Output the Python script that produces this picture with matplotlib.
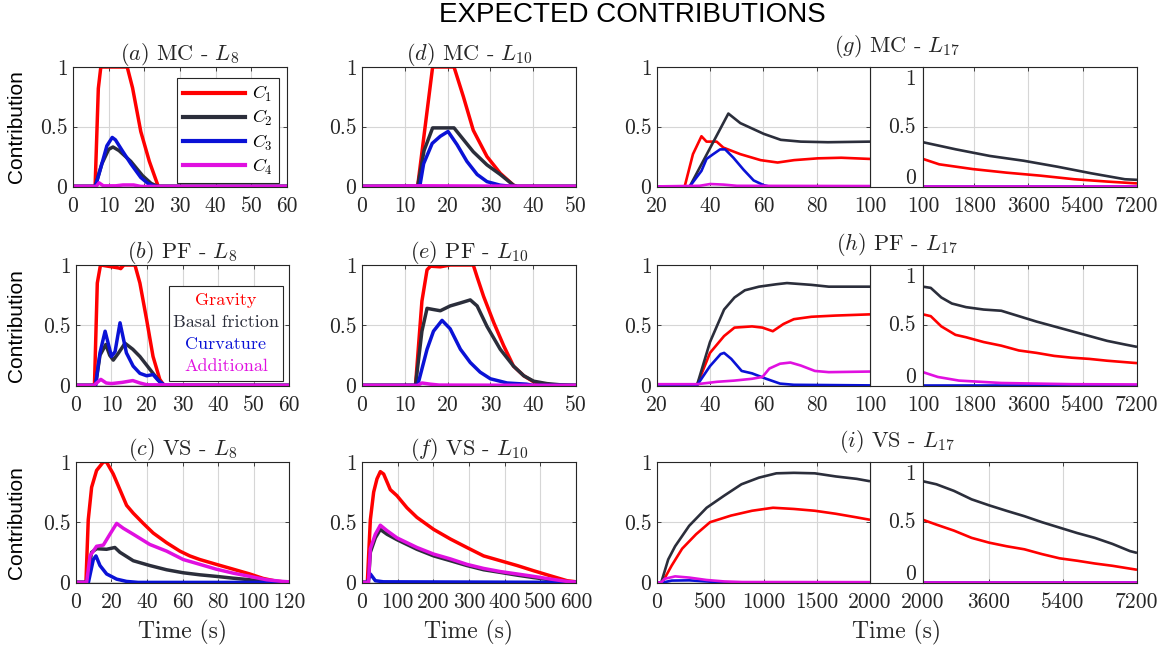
import matplotlib
matplotlib.use('Agg')
import matplotlib.pyplot as plt
from matplotlib.patches import Rectangle
from matplotlib.lines import Line2D

plt.rcParams['mathtext.fontset'] = 'cm'
plt.rcParams['font.family'] = 'cmr10'
plt.rcParams['axes.formatter.use_mathtext'] = True

# ---------------- data ----------------
# (a) MC - L8
A_T1 = [0, 6.2, 7.1, 7.8, 15.2, 16.7, 19.0, 21.4, 23.9, 60]
A_C1 = [0, 0, 0.82, 1.0, 1.0, 0.825, 0.46, 0.21, 0.0, 0]
A_T2 = [0, 6.2, 8.1, 10.0, 11.2, 12.9, 16.2, 19.5, 21.9, 23.8, 60]
A_C2 = [0, 0, 0.19, 0.31, 0.33, 0.30, 0.21, 0.09, 0.025, 0, 0]
A_T3 = [0, 6.3, 8.1, 9.5, 11.0, 11.9, 13.8, 16.2, 19.0, 21.0, 22.9, 60]
A_C3 = [0, 0, 0.19, 0.34, 0.41, 0.39, 0.30, 0.19, 0.075, 0.025, 0.0, 0]
A_T4 = [0, 6.5, 7.3, 8.5, 12, 14, 17, 19, 60]
A_C4 = [0, 0, 0.03, 0.005, 0.005, 0.012, 0.012, 0, 0]

# (b) PF - L8
B_T1 = [0, 5.2, 6.0, 6.9, 12.1, 12.6, 13.5, 16.6, 18, 19.9, 21.7, 23.6, 24.8, 60]
B_C1 = [0, 0, 0.85, 1.0, 0.975, 0.97, 1.0, 1.0, 0.85, 0.545, 0.24, 0.05, 0.0, 0]
B_T2 = [0, 5.5, 6.75, 8.4, 9.5, 10.5, 12, 13.8, 16, 18, 21.7, 23.6, 25, 60]
B_C2 = [0, 0, 0.25, 0.34, 0.25, 0.21, 0.27, 0.35, 0.30, 0.24, 0.10, 0.03, 0, 0]
B_T3 = [0, 5.5, 6.75, 8.2, 10.0, 11.0, 12.4, 14.2, 16.1, 18, 19.9, 21.7, 23.2, 25, 60]
B_C3 = [0, 0, 0.27, 0.45, 0.24, 0.28, 0.52, 0.27, 0.16, 0.10, 0.08, 0.09, 0.04, 0, 0]
B_T4 = [0, 5, 7, 8.5, 10, 13, 16, 18, 20, 60]
B_C4 = [0, 0, 0.05, 0.02, 0.015, 0.025, 0.04, 0.02, 0.005, 0]

# (c) VS - L8
C_T1 = [0, 5.6, 6.9, 8.8, 11.6, 15.4, 17.2, 21, 24.75, 28.5, 32.25, 37.9, 43.5, 51, 58.5, 64.1,
        69.75, 79, 88.5, 97.9, 105.4, 112.9, 120]
C_C1 = [0, 0, 0.52, 0.79, 0.93, 1.0, 1.0, 0.90, 0.77, 0.64, 0.575, 0.49, 0.41, 0.33, 0.26, 0.22,
        0.19, 0.15, 0.11, 0.07, 0.033, 0.01, 0]
C_T2 = [0, 6, 8.8, 11.6, 17.2, 21.9, 24.75, 32.25, 41.6, 51, 60.4, 69.75, 79, 88.5, 97.9, 105.4, 112, 120]
C_C2 = [0, 0, 0.25, 0.28, 0.275, 0.29, 0.25, 0.18, 0.14, 0.105, 0.08, 0.063, 0.05, 0.035, 0.022, 0.01, 0.003, 0]
C_T3 = [0, 7, 9.75, 11.25, 13.5, 17.25, 22.9, 28.5, 35, 120]
C_C3 = [0, 0, 0.19, 0.22, 0.14, 0.07, 0.027, 0.008, 0, 0]
C_T4 = [0, 6, 7.9, 11.6, 15.4, 19.1, 22.9, 26.6, 32.25, 41.6, 51, 60.4, 69.75, 79, 88.5, 97.9, 107.25, 116.6, 120]
C_C4 = [0, 0, 0.22, 0.30, 0.31, 0.40, 0.49, 0.45, 0.40, 0.315, 0.26, 0.19, 0.15, 0.11, 0.077, 0.05, 0.022, 0.008, 0.005]

# (d) MC - L10
D_T1 = [0, 13, 16.5, 21.5, 23.7, 26, 29.2, 32.3, 35.4, 36.2, 50]
D_C1 = [0, 0, 1.0, 1.0, 0.75, 0.47, 0.25, 0.11, 0.01, 0, 0]
D_T2 = [0, 13, 14.5, 16.5, 21.5, 26, 29.2, 32.3, 35.4, 36.2, 50]
D_C2 = [0, 0, 0.30, 0.49, 0.49, 0.29, 0.18, 0.10, 0.01, 0, 0]
D_T3 = [0, 13.5, 14.4, 16.4, 18.3, 20.1, 22.2, 24.5, 26.9, 29.2, 32.3, 35, 50]
D_C3 = [0, 0, 0.19, 0.36, 0.42, 0.46, 0.35, 0.21, 0.10, 0.04, 0.01, 0, 0]
D_T4 = [0, 14, 16, 50]
D_C4 = [0, 0.005, 0.005, 0]

# (e) PF - L10
E_T1 = [0, 12.5, 14.0, 15.2, 16.0, 18.3, 20.6, 26.0, 26.9, 28.4, 30.8, 33.1, 35.4, 37.8, 40.1, 42.4, 44, 50]
E_C1 = [0, 0, 0.70, 0.96, 0.99, 0.985, 1.0, 1.0, 0.90, 0.74, 0.52, 0.33, 0.16, 0.08, 0.03, 0.01, 0, 0]
E_T2 = [0, 12.5, 14.0, 15.2, 16.7, 18.3, 20.6, 23, 25.3, 26.9, 29.2, 32.3, 35.4, 37.8, 40.1, 43.2, 46.3, 50]
E_C2 = [0, 0, 0.45, 0.64, 0.63, 0.62, 0.66, 0.685, 0.71, 0.66, 0.49, 0.30, 0.16, 0.08, 0.035, 0.015, 0.005, 0]
E_T3 = [0, 13, 15.2, 16.7, 18.7, 20.6, 23, 25.3, 27.6, 30, 33.9, 38.5, 40, 50]
E_C3 = [0, 0, 0.30, 0.45, 0.54, 0.47, 0.30, 0.19, 0.11, 0.055, 0.02, 0.01, 0, 0]
E_T4 = [0, 13, 14, 16, 18, 50]
E_C4 = [0, 0, 0.02, 0.01, 0.003, 0]

# (f) VS - L10
F_T1 = [0, 15, 23.4, 32.7, 42, 51.4, 60.7, 79.4, 98, 126, 154, 201, 248, 294, 341, 388, 435, 481, 528, 575, 600]
F_C1 = [0, 0, 0.52, 0.75, 0.86, 0.92, 0.90, 0.77, 0.72, 0.62, 0.54, 0.44, 0.36, 0.29, 0.22, 0.18, 0.14, 0.097, 0.055, 0.014, 0.005]
F_T2 = [0, 18, 23.4, 37.4, 51.4, 70, 98, 154, 201, 248, 294, 341, 388, 435, 481, 528, 575, 600]
F_C2 = [0, 0, 0.25, 0.37, 0.44, 0.40, 0.355, 0.275, 0.22, 0.18, 0.14, 0.105, 0.083, 0.06, 0.04, 0.022, 0.005, 0]
F_T3 = [0, 15, 23.4, 37.4, 60, 600]
F_C3 = [0, 0, 0.07, 0.014, 0.005, 0]
F_T4 = [0, 18, 23.4, 37.4, 51.4, 70, 98, 154, 201, 248, 294, 341, 388, 435, 481, 528, 575, 600]
F_C4 = [0, 0, 0.28, 0.40, 0.475, 0.43, 0.37, 0.29, 0.235, 0.195, 0.15, 0.116, 0.09, 0.07, 0.05, 0.028, 0.008, 0.003]

# (g) MC - L17  (early part 20-100 s, late part 100-7200 s)
G_T1 = [20, 30.4, 33.5, 36.7, 38.6, 42.4, 44.9, 51.3, 58.9, 65.3, 71.5, 80.4, 89.2, 100]
G_C1 = [0, 0, 0.27, 0.42, 0.375, 0.375, 0.325, 0.27, 0.22, 0.20, 0.22, 0.235, 0.24, 0.23]
G_T2 = [20, 32.3, 46.8, 51.3, 60.1, 66.5, 74, 84.2, 100]
G_C2 = [0, 0, 0.61, 0.53, 0.44, 0.39, 0.375, 0.37, 0.375]
G_T3 = [20, 32.3, 36.7, 38.6, 41.1, 43.7, 45.6, 48.7, 52.5, 56.3, 60.1, 62, 100]
G_C3 = [0, 0, 0.13, 0.23, 0.27, 0.31, 0.31, 0.24, 0.14, 0.05, 0.01, 0, 0]
G_T4 = [20, 36, 40, 45, 50, 100]
G_C4 = [0, 0.005, 0.02, 0.015, 0.005, 0.003]
G2_T1 = [100, 637, 1757, 2877, 3997, 5117, 6237, 7200]
G2_C1 = [0.23, 0.185, 0.145, 0.115, 0.09, 0.06, 0.04, 0.025]
G2_T2 = [100, 1197, 2317, 3437, 4557, 5677, 6797, 7200]
G2_C2 = [0.37, 0.31, 0.255, 0.215, 0.165, 0.11, 0.06, 0.055]
G2_T3 = [100, 7200]
G2_C3 = [0, 0]
G2_T4 = [100, 7200]
G2_C4 = [0.003, 0.003]

# (h) PF - L17
H_T1 = [20, 35, 39.9, 45.2, 49.1, 55.7, 59.6, 63.5, 67.5, 71.4, 78, 87, 100]
H_C1 = [0, 0, 0.27, 0.41, 0.48, 0.49, 0.48, 0.45, 0.51, 0.55, 0.57, 0.58, 0.59]
H_T2 = [20, 35, 39.9, 45.2, 49.1, 53, 58.3, 64.8, 68.8, 78, 84.5, 100]
H_C2 = [0, 0, 0.36, 0.63, 0.73, 0.79, 0.82, 0.84, 0.85, 0.835, 0.82, 0.82]
H_T3 = [20, 35, 39.9, 43.9, 45.2, 47.9, 51.8, 55.7, 61, 66.2, 71.4, 100]
H_C3 = [0, 0, 0.16, 0.26, 0.27, 0.22, 0.12, 0.10, 0.055, 0.015, 0.005, 0]
H_T4 = [20, 35, 42.6, 49.1, 55.7, 59.6, 62.2, 66.2, 70.1, 74, 79.3, 84.5, 100]
H_C4 = [0.01, 0.01, 0.03, 0.04, 0.055, 0.07, 0.14, 0.18, 0.19, 0.165, 0.12, 0.11, 0.115]
H2_T1 = [100, 357, 708, 1176, 1527, 2112, 2697, 3282, 3867, 4452, 5037, 5622, 6207, 7200]
H2_C1 = [0.59, 0.575, 0.49, 0.42, 0.40, 0.36, 0.33, 0.29, 0.27, 0.245, 0.23, 0.22, 0.205, 0.185]
H2_T2 = [100, 357, 708, 1059, 1527, 2112, 2697, 3282, 3867, 4452, 5037, 5622, 6207, 6792, 7200]
H2_C2 = [0.82, 0.81, 0.73, 0.68, 0.65, 0.63, 0.62, 0.575, 0.53, 0.49, 0.45, 0.41, 0.37, 0.34, 0.32]
H2_T3 = [100, 7200]
H2_C3 = [0, 0]
H2_T4 = [100, 592, 1293, 2697, 5037, 7200]
H2_C4 = [0.11, 0.07, 0.04, 0.02, 0.01, 0.008]

# (i) VS - L17  (0-2000 s, 2000-7200 s)
I_T1 = [0, 50, 138, 236, 367, 498, 695, 892, 1089, 1285, 1482, 1679, 1875, 2000]
I_C1 = [0, 0, 0.14, 0.28, 0.40, 0.50, 0.555, 0.595, 0.62, 0.61, 0.595, 0.57, 0.54, 0.52]
I_T2 = [0, 40, 105, 170, 302, 466, 630, 793, 957, 1121, 1285, 1482, 1679, 1875, 2000]
I_C2 = [0, 0, 0.19, 0.30, 0.47, 0.62, 0.72, 0.815, 0.87, 0.906, 0.91, 0.906, 0.88, 0.86, 0.84]
I_T3 = [0, 60, 138, 302, 466, 600, 2000]
I_C3 = [0, 0, 0.015, 0.017, 0.008, 0, 0]
I_T4 = [0, 40, 72, 170, 302, 466, 630, 800, 2000]
I_C4 = [0, 0, 0.03, 0.05, 0.04, 0.02, 0.008, 0.003, 0.002]
I2_T1 = [2000, 2325, 2753, 3180, 3608, 4035, 4463, 4891, 5318, 5746, 6174, 6601, 7200]
I2_C1 = [0.52, 0.48, 0.43, 0.37, 0.33, 0.30, 0.275, 0.235, 0.20, 0.18, 0.157, 0.138, 0.105]
I2_T2 = [2000, 2325, 2753, 3180, 3608, 4035, 4463, 4891, 5318, 5746, 6174, 6601, 7029, 7200]
I2_C2 = [0.84, 0.815, 0.76, 0.69, 0.64, 0.594, 0.55, 0.50, 0.455, 0.41, 0.37, 0.32, 0.26, 0.245]
I2_T3 = [2000, 7200]
I2_C3 = [0, 0]
I2_T4 = [2000, 7200]
I2_C4 = [0.002, 0.002]

# tick labels
X_TICKS_60 = [0, 10, 20, 30, 40, 50, 60]
X_TICKS_50 = [0, 10, 20, 30, 40, 50]
X_TICKS_120 = [0, 20, 40, 60, 80, 100, 120]
X_TICKS_600 = [0, 100, 200, 300, 400, 500, 600]
X_TICKS_L17A = [20, 40, 60, 80, 100]
X_TICKS_L17B = [100, 1800, 3600, 5400, 7200]
X_TICKS_VS17A = [0, 500, 1000, 1500, 2000]
X_TICKS_VS17B = [2000, 3600, 5400, 7200]
Y_TICKS = [0, 0.5, 1]
Y_LABELS = ['0', '0.5', '1']

LEG_C = [r'$C_1$', r'$C_2$', r'$C_3$', r'$C_4$']
LEG_NAMES = ['Gravity', 'Basal friction', 'Curvature', 'Additional']

COLORS = ['#FF0000', '#2B2E3B', '#0A12D6', '#E010E0']
SPINE = '#262626'
TICK_FS = 15.5
TITLE_FS = 16

# ---------------- layout ----------------
W, H = 1172, 653
fig = plt.figure(figsize=(W / 100, H / 100), dpi=100)


def rect(l, t, r, b):
    return [l / W, 1 - b / H, (r - l) / W, (b - t) / H]


ROWS = [(67, 187), (265, 386), (462, 583)]
COL1 = [(73, 287), (76, 289), (76, 289)]
COL2 = (362, 576)
COL3L = (657, 870)
COL3R = (923, 1137)


def style(ax, xlim, xticks, show_y=True):
    ax.set_xlim(xlim)
    ax.set_ylim(-0.005, 1.0)
    ax.set_xticks(xticks)
    ax.set_xticklabels([str(v) for v in xticks], fontfamily='cmr10')
    ax.set_yticks(Y_TICKS)
    ax.set_yticklabels(Y_LABELS if show_y else [], fontfamily='cmr10')
    ax.grid(True, color='#d6d6d6', lw=0.8)
    ax.set_axisbelow(True)
    ax.tick_params(direction='in', length=3, width=0.6, top=True, right=True,
                   labelsize=TICK_FS, colors=SPINE)
    ax.tick_params(axis='x', pad=7)
    ax.tick_params(axis='y', pad=4)
    for s in ax.spines.values():
        s.set_color(SPINE)
        s.set_linewidth(0.8)


def draw(ax, series, lw):
    for (t, y), c in zip(series, COLORS):
        ax.plot(t, y, color=c, lw=lw, solid_joinstyle='round', solid_capstyle='butt')


simple = [
    (0, 0, 'a', 'MC', '8', [(A_T1, A_C1), (A_T2, A_C2), (A_T3, A_C3), (A_T4, A_C4)], (0, 60), X_TICKS_60),
    (1, 0, 'b', 'PF', '8', [(B_T1, B_C1), (B_T2, B_C2), (B_T3, B_C3), (B_T4, B_C4)], (0, 60), X_TICKS_60),
    (2, 0, 'c', 'VS', '8', [(C_T1, C_C1), (C_T2, C_C2), (C_T3, C_C3), (C_T4, C_C4)], (0, 120), X_TICKS_120),
    (0, 1, 'd', 'MC', '10', [(D_T1, D_C1), (D_T2, D_C2), (D_T3, D_C3), (D_T4, D_C4)], (0, 50), X_TICKS_50),
    (1, 1, 'e', 'PF', '10', [(E_T1, E_C1), (E_T2, E_C2), (E_T3, E_C3), (E_T4, E_C4)], (0, 50), X_TICKS_50),
    (2, 1, 'f', 'VS', '10', [(F_T1, F_C1), (F_T2, F_C2), (F_T3, F_C3), (F_T4, F_C4)], (0, 600), X_TICKS_600),
]

axes = {}
for row, col, letter, case, sub, series, xlim, xt in simple:
    t, b = ROWS[row]
    l, r = COL1[row] if col == 0 else COL2
    ax = fig.add_axes(rect(l, t, r, b))
    style(ax, xlim, xt)
    draw(ax, series, 2.5)
    ax.set_title(r'$(%s)$ MC - $L_{%s}$'.replace('MC', case) % (letter, sub), fontsize=TITLE_FS,
                 pad=5, color='#262626')
    axes[letter] = ax

split = [
    (0, 'g', 'MC', [(G_T1, G_C1), (G_T2, G_C2), (G_T3, G_C3), (G_T4, G_C4)],
     [(G2_T1, G2_C1), (G2_T2, G2_C2), (G2_T3, G2_C3), (G2_T4, G2_C4)],
     (20, 100), X_TICKS_L17A, (100, 7200), X_TICKS_L17B),
    (1, 'h', 'PF', [(H_T1, H_C1), (H_T2, H_C2), (H_T3, H_C3), (H_T4, H_C4)],
     [(H2_T1, H2_C1), (H2_T2, H2_C2), (H2_T3, H2_C3), (H2_T4, H2_C4)],
     (20, 100), X_TICKS_L17A, (100, 7200), X_TICKS_L17B),
    (2, 'i', 'VS', [(I_T1, I_C1), (I_T2, I_C2), (I_T3, I_C3), (I_T4, I_C4)],
     [(I2_T1, I2_C1), (I2_T2, I2_C2), (I2_T3, I2_C3), (I2_T4, I2_C4)],
     (0, 2000), X_TICKS_VS17A, (2000, 7200), X_TICKS_VS17B),
]

for row, letter, case, s1, s2, xl1, xt1, xl2, xt2 in split:
    t, b = ROWS[row]
    fig.add_artist(Rectangle((COL3L[1] / W, 1 - b / H), (COL3R[0] - COL3L[1]) / W, (b - t) / H,
                             transform=fig.transFigure, facecolor='white', edgecolor=SPINE,
                             lw=0.8, zorder=-1))
    ax1 = fig.add_axes(rect(COL3L[0], t, COL3L[1], b))
    style(ax1, xl1, xt1)
    draw(ax1, s1, 1.9)
    ax2 = fig.add_axes(rect(COL3R[0], t, COL3R[1], b))
    style(ax2, xl2, xt2, show_y=False)
    draw(ax2, s2, 1.9)
    for yv, lab in zip([0.07, 0.5, 0.895], Y_LABELS):
        ax2.text(-7 / (COL3R[1] - COL3R[0]), yv, lab, transform=ax2.transAxes, ha='right',
                 va='center', fontsize=TICK_FS, color=SPINE, clip_on=False)
    fig.text((COL3L[0] + COL3R[1]) / 2 / W, 1 - (t - 7) / H,
             r'$(%s)$ MC - $L_{17}$'.replace('MC', case) % letter, ha='center', va='bottom',
             fontsize=TITLE_FS, color='#262626')

# legends
ax = axes['a']
handles = [Line2D([0], [0], color=c, lw=3) for c in COLORS]
leg = ax.legend(handles, LEG_C, loc='upper right', bbox_to_anchor=(0.963, 0.908),
                bbox_transform=ax.transAxes, borderaxespad=0, frameon=True, fancybox=False,
                edgecolor=SPINE, framealpha=1, fontsize=13, handlelength=3.4,
                labelspacing=0.22, handletextpad=0.4, borderpad=0.35)
leg.get_frame().set_linewidth(0.8)

ax = axes['b']
ax.add_patch(Rectangle((0.437, 0.04), 0.535, 0.786, transform=ax.transAxes, facecolor='white',
                       edgecolor=SPINE, lw=0.8, zorder=5))
for yv, name, c in zip([0.711, 0.523, 0.345, 0.165], LEG_NAMES, COLORS):
    ax.text(0.704, yv, name, transform=ax.transAxes, ha='center', va='center', fontsize=13,
            color=c, zorder=6)

# labels
for row in range(3):
    t, b = ROWS[row]
    fig.text(17 / W, 1 - (t + b) / 2 / H, 'Contribution', rotation=90, ha='center', va='center',
             fontsize=15, family='Liberation Sans', color='black')

for xc in [(COL1[2][0] + COL1[2][1]) / 2, (COL2[0] + COL2[1]) / 2, (COL3L[0] + COL3R[1]) / 2]:
    fig.text(xc / W, 1 - 632 / H, 'Time (s)', ha='center', va='center', fontsize=17, color='#262626')

fig.text(632 / W, 1 - 15 / H, 'EXPECTED CONTRIBUTIONS', ha='center', va='center', fontsize=20,
         family='Liberation Sans', color='black')

fig.savefig('out.png', dpi=100)
